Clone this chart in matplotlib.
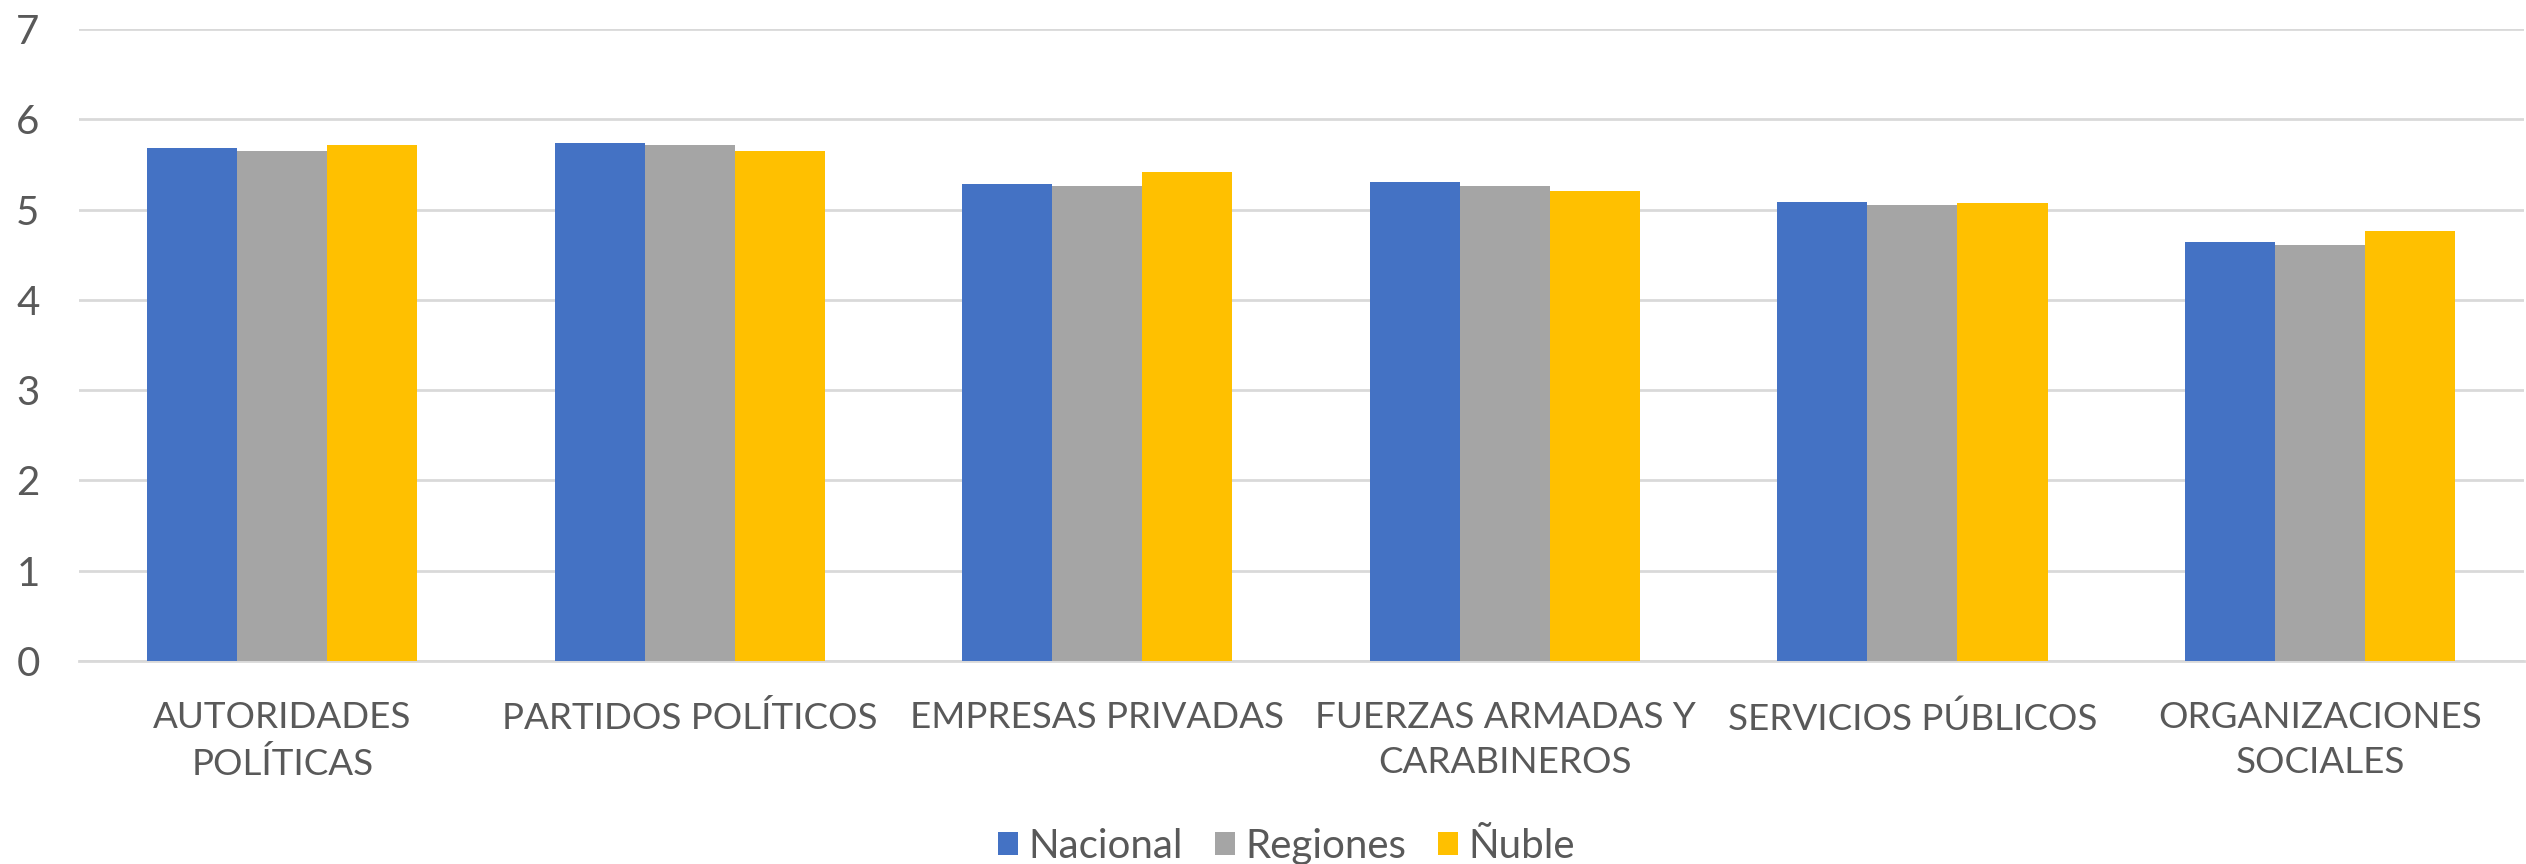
import numpy as np
import matplotlib.pyplot as plt

plt.rcParams['font.family'] = ['Lato', 'DejaVu Sans']

# datos
categorias = ['AUTORIDADES\nPOLÍTICAS', 'PARTIDOS POLÍTICOS', 'EMPRESAS PRIVADAS',
              'FUERZAS ARMADAS Y\nCARABINEROS', 'SERVICIOS PÚBLICOS', 'ORGANIZACIONES\nSOCIALES']
nacional = [5.68, 5.74, 5.28, 5.30, 5.08, 4.64]
regiones = [5.65, 5.72, 5.26, 5.26, 5.05, 4.61]
nuble = [5.72, 5.65, 5.42, 5.21, 5.07, 4.76]
series = ['Nacional', 'Regiones', 'Ñuble']
colores = ['#4472C4', '#A5A5A5', '#FFC000']

texto = '#595959'
fs = 29

fig = plt.figure(figsize=(25.26, 8.64), dpi=100)
ax = fig.add_axes([0.0311, 0.235, 0.968, 0.7315])

x = np.arange(len(categorias))
w = 0.221
for i, (vals, nombre, c) in enumerate(zip([nacional, regiones, nuble], series, colores)):
    ax.bar(x + (i - 1) * w, vals, w, color=c, label=nombre, zorder=3)

ax.set_xlim(-0.5, len(categorias) - 0.5)
ax.set_ylim(0, 7)
ax.set_yticks(range(0, 8))
ax.yaxis.grid(True, color='#D9D9D9', linewidth=2, zorder=0)
ax.set_axisbelow(True)

for s in ['top', 'right', 'left']:
    ax.spines[s].set_visible(False)
ax.spines['bottom'].set_color('#D9D9D9')
ax.spines['bottom'].set_linewidth(2)

ax.set_xticks(x)
ax.set_xticklabels(categorias, linespacing=1.45)
ax.tick_params(axis='x', length=0, pad=29, labelsize=26.5, labelcolor=texto)
ax.tick_params(axis='y', length=0, pad=28, labelsize=fs, labelcolor=texto)

ax.legend(loc='lower center', bbox_to_anchor=(0.494, -0.355), ncol=3, frameon=False,
          fontsize=fs, labelcolor=texto, handlelength=0.5, handleheight=0.5,
          handletextpad=0.25, columnspacing=0.8, borderpad=0)

fig.savefig('out.png', dpi=100)
